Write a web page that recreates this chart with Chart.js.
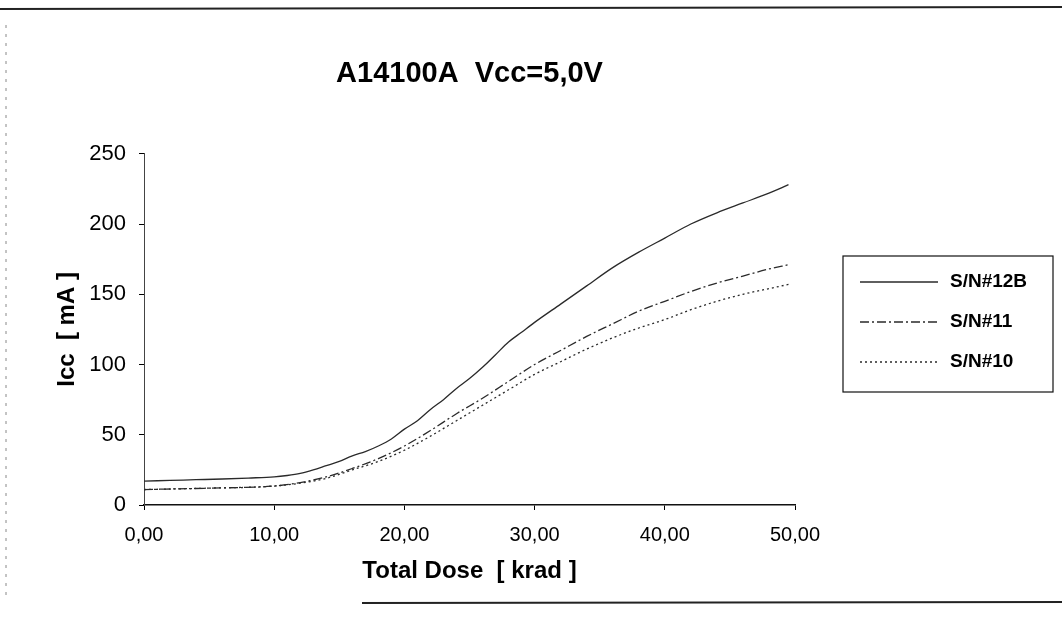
<!DOCTYPE html>
<html>
<head>
<meta charset="utf-8">
<script src="https://cdn.jsdelivr.net/npm/chart.js@4/dist/chart.umd.min.js"></script>
<style>
  html, body { margin: 0; padding: 0; background: #fff; }
  #wrap { width: 1062px; height: 622px; position: relative; }
</style>
</head>
<body>
<div id="wrap"><canvas id="c" width="1062" height="622"></canvas></div>
<script>
// ---- data ----
const chartTitle = 'A14100A  Vcc=5,0V';
const xTitle = 'Total Dose  [ krad ]';
const yTitle = 'Icc  [ mA ]';
const seriesNames = ['S/N#12B', 'S/N#11', 'S/N#10'];

const doseSN12B = [0, 2, 4, 6, 8, 10, 11, 12, 13, 14, 15, 16, 17, 18, 19, 20, 21, 22, 23, 24, 25, 26, 27, 28, 29, 30, 32, 34, 36, 38, 40, 42, 44, 46, 48, 49.5];
const iccSN12B  = [17, 17.5, 18, 18.5, 19.2, 20, 21, 22.5, 25, 28, 31, 35, 38, 42, 47, 54, 60, 68, 75, 83, 90, 98, 107, 116, 123, 130, 143, 156, 169, 180, 190, 200, 208, 215, 222, 228];

const doseSN11 = [0, 5, 10, 12, 14, 16, 18, 20, 22, 24, 26, 28, 30, 32, 34, 36, 38, 40, 42, 44, 46, 48, 49.5];
const iccSN11  = [11, 12, 13.5, 16, 20, 26, 33, 42, 53, 65, 76, 88, 100, 110, 120, 129, 138, 145, 152, 158, 163, 168, 171];

const doseSN10 = [0, 5, 10, 12, 14, 16, 18, 20, 22, 24, 26, 28, 30, 32, 34, 36, 38, 40, 42, 44, 46, 48, 49.5];
const iccSN10  = [11, 12, 13.5, 15.5, 19, 25, 31, 39, 49, 60, 71, 82, 93, 102, 111, 119, 126, 132, 139, 145, 150, 154, 157];

const xTickLabels = ['0,00', '10,00', '20,00', '30,00', '40,00', '50,00'];
const yTickLabels = ['0', '50', '100', '150', '200', '250'];

function pts(xs, ys) { return xs.map((x, i) => ({ x: x, y: ys[i] })); }

const FONT = "'Liberation Sans', Arial, Helvetica, sans-serif";

// page frame (scanned border)
const framePlugin = {
  id: 'frame',
  afterDraw(chart) {
    const ctx = chart.ctx;
    ctx.save();
    ctx.strokeStyle = '#222';
    ctx.lineWidth = 2;
    ctx.beginPath(); ctx.moveTo(0, 9); ctx.lineTo(1062, 7); ctx.stroke();
    ctx.beginPath(); ctx.moveTo(362, 603); ctx.lineTo(1062, 602); ctx.stroke();
    ctx.strokeStyle = '#888';
    ctx.lineWidth = 1;
    ctx.setLineDash([3, 6]);
    ctx.beginPath(); ctx.moveTo(6, 25); ctx.lineTo(6, 600); ctx.stroke();
    ctx.restore();
  }
};

// boxed legend on the right, styled from the datasets
const legendPlugin = {
  id: 'boxLegend',
  afterDraw(chart) {
    const ctx = chart.ctx;
    const L = 843, T = 256, R = 1053, B = 392;
    ctx.save();
    ctx.strokeStyle = '#111';
    ctx.lineWidth = 1.2;
    ctx.setLineDash([]);
    ctx.strokeRect(L, T, R - L, B - T);
    ctx.font = 'bold 19px ' + FONT;
    ctx.textBaseline = 'middle';
    ctx.textAlign = 'left';
    chart.data.datasets.forEach((ds, i) => {
      const y = 282 + i * 40;
      ctx.strokeStyle = ds.borderColor;
      ctx.lineWidth = ds.borderWidth;
      ctx.setLineDash(ds.borderDash || []);
      ctx.beginPath(); ctx.moveTo(860, y); ctx.lineTo(938, y); ctx.stroke();
      ctx.fillStyle = '#000';
      ctx.fillText(ds.label, 950, y);
    });
    ctx.restore();
  }
};

const lineCommon = {
  borderColor: '#2a2a2a',
  borderWidth: 1.3,
  pointRadius: 0,
  fill: false,
  cubicInterpolationMode: 'monotone',
  showLine: true
};

new Chart(document.getElementById('c'), {
  type: 'scatter',
  data: {
    datasets: [
      Object.assign({ label: seriesNames[0], data: pts(doseSN12B, iccSN12B), borderDash: [] }, lineCommon),
      Object.assign({ label: seriesNames[1], data: pts(doseSN11, iccSN11), borderDash: [9, 3, 2, 3] }, lineCommon),
      Object.assign({ label: seriesNames[2], data: pts(doseSN10, iccSN10), borderDash: [2, 3] }, lineCommon)
    ]
  },
  options: {
    responsive: false,
    animation: false,
    layout: { padding: { left: 0, right: 267, top: 0, bottom: 0 } },
    plugins: {
      legend: { display: false },
      tooltip: { enabled: false },
      title: {
        display: true,
        text: chartTitle,
        fullSize: false,
        color: '#000',
        font: { family: FONT, size: 29, weight: 'bold' },
        padding: { top: 57, bottom: 62 }
      }
    },
    scales: {
      x: {
        type: 'linear',
        min: 0, max: 50,
        afterFit(scale) { scale.height = 117; },
        afterBuildTicks(scale) { scale.ticks = xTickLabels.map((_, i) => ({ value: i * 10 })); },
        ticks: {
          color: '#000',
          padding: 13,
          font: { family: FONT, size: 20 },
          callback: (v) => xTickLabels[Math.round(v / 10)]
        },
        grid: { drawOnChartArea: false, drawTicks: true, tickLength: 5, color: '#000' },
        border: { display: true, color: '#111', width: 1.5 },
        title: {
          display: true,
          text: xTitle,
          color: '#000',
          font: { family: FONT, size: 24, weight: 'bold' },
          padding: { top: 0, bottom: 36 }
        }
      },
      y: {
        type: 'linear',
        min: 0, max: 250,
        afterFit(scale) { scale.width = 144; },
        afterBuildTicks(scale) { scale.ticks = yTickLabels.map((_, i) => ({ value: i * 50 })); },
        ticks: {
          color: '#000',
          padding: 13,
          font: { family: FONT, size: 22 },
          callback: (v) => yTickLabels[Math.round(v / 50)]
        },
        grid: { drawOnChartArea: false, drawTicks: true, tickLength: 5, color: '#000' },
        border: { display: true, color: '#444', width: 1, dash: [5, 3] },
        title: {
          display: true,
          text: yTitle,
          color: '#000',
          font: { family: FONT, size: 24, weight: 'bold' },
          padding: { top: 53, bottom: 0 }
        }
      }
    }
  },
  plugins: [framePlugin, legendPlugin]
});
</script>
</body>
</html>
